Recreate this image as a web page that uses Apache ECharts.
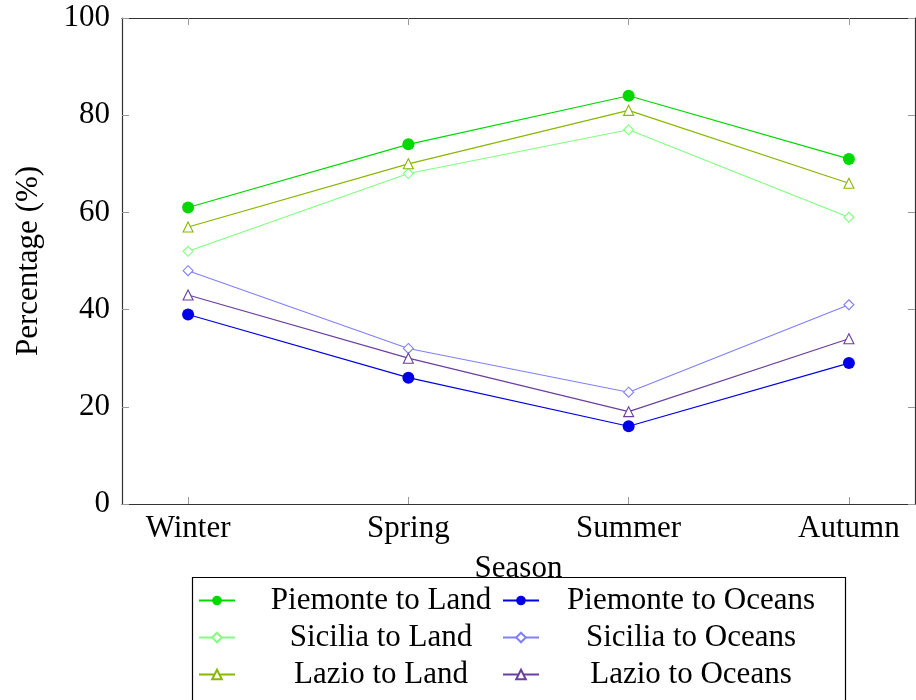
<!DOCTYPE html>
<html>
<head>
<meta charset="utf-8">
<script src="https://cdn.jsdelivr.net/npm/echarts@6/dist/echarts.min.js"></script>
<style>
  html, body { margin: 0; padding: 0; background: #fff; }
  #chart { width: 916px; height: 700px; }
</style>
</head>
<body>
<div id="chart"></div>
<script>
// data
const seasons = ['Winter', 'Spring', 'Summer', 'Autumn'];
const yTicks = [0, 20, 40, 60, 80, 100];

const piemonteLand = [61, 74, 84, 71];
const piemonteOceans = [39, 26, 16, 29];
const siciliaLand = [52, 68, 77, 59];
const siciliaOceans = [48, 32, 23, 41];
const lazioLand = [57, 70, 81, 66];
const lazioOceans = [43, 30, 19, 34];

const FONT = '"Liberation Serif", "DejaVu Serif", serif';
const FS = 31;
const seasonIdx = seasons.map((s, i) => i);

const chart = echarts.init(document.getElementById('chart'), null, { renderer: 'canvas' });

// 把数组变成 [x, y] 点
const pts = (arr) => arr.map((v, i) => [i, v]);

const mkSeries = (name, arr, color, symbol, size, filled) => ({
  name,
  type: 'line',
  data: pts(arr),
  symbol,
  symbolSize: size,
  showSymbol: true,
  lineStyle: { color, width: 1.2 },
  itemStyle: filled
    ? { color, borderColor: color, borderWidth: 0 }
    : { color: '#fff', borderColor: color, borderWidth: 1.1 },
  emphasis: { disabled: true },
  z: 3
});

const axisFrame = { show: true, onZero: false, lineStyle: { color: '#333', width: 1.2 } };
const tickStyle = { show: true, inside: true, length: 7, lineStyle: { color: '#999', width: 1 } };

// legend columns (left / right)
const legendLeft = ['Piemonte to Land', 'Sicilia to Land', 'Lazio to Land'];
const legendRight = ['Piemonte to Oceans', 'Sicilia to Oceans', 'Lazio to Oceans'];

const mkLegend = (data, left, textW) => ({
  data,
  left,
  top: 585,
  padding: 0,
  orient: 'vertical',
  itemWidth: 36,
  itemHeight: 12,
  itemGap: 6,
  selectedMode: false,
  textStyle: {
    fontFamily: FONT,
    fontSize: FS,
    color: '#000',
    rich: {
      c: { width: textW, align: 'center', fontFamily: FONT, fontSize: FS, color: '#000' }
    }
  },
  formatter: (name) => '{c|' + name + '}'
});

const option = {
  animation: false,
  backgroundColor: '#fff',
  grid: { left: 122, right: 1, top: 18, bottom: 196, containLabel: false, outerBoundsMode: 'none' },
  xAxis: [
    {
      type: 'value',
      min: -0.3,
      max: 3.3,
      position: 'bottom',
      name: 'Season',
      nameLocation: 'middle',
      nameGap: 49,
      nameTextStyle: { fontFamily: FONT, fontSize: FS, color: '#000' },
      axisLine: axisFrame,
      axisTick: Object.assign({}, tickStyle, { customValues: seasonIdx }),
      axisLabel: {
        customValues: seasonIdx,
        formatter: (v) => seasons[Math.round(v)],
        fontFamily: FONT, fontSize: FS, color: '#000', margin: 9
      },
      splitLine: { show: false }
    },
    {
      type: 'value',
      min: -0.3,
      max: 3.3,
      position: 'top',
      axisLine: axisFrame,
      axisTick: Object.assign({}, tickStyle, { customValues: seasonIdx }),
      axisLabel: { show: false },
      splitLine: { show: false }
    }
  ],
  yAxis: [
    {
      type: 'value',
      min: 0,
      max: 100,
      interval: 20,
      position: 'left',
      name: 'Percentage (%)',
      nameLocation: 'middle',
      nameGap: 78,
      nameTextStyle: { fontFamily: FONT, fontSize: FS, color: '#000' },
      axisLine: axisFrame,
      axisTick: tickStyle,
      axisLabel: {
        customValues: yTicks,
        fontFamily: FONT, fontSize: FS, color: '#000', margin: 12
      },
      splitLine: { show: false }
    },
    {
      type: 'value',
      min: 0,
      max: 100,
      interval: 20,
      position: 'right',
      axisLine: axisFrame,
      axisTick: tickStyle,
      axisLabel: { show: false },
      splitLine: { show: false }
    }
  ],
  legend: [
    mkLegend(legendLeft, 198, 282),
    mkLegend(legendRight, 502, 294)
  ],
  graphic: [
    {
      type: 'rect',
      shape: { x: 192.5, y: 577.5, width: 653, height: 140 },
      style: { fill: 'none', stroke: '#000', lineWidth: 1.2 },
      silent: true,
      z: 100
    }
  ],
  series: [
    mkSeries('Piemonte to Land', piemonteLand, '#00d900', 'circle', 12, true),
    mkSeries('Sicilia to Land', siciliaLand, '#80ff80', 'diamond', 10, false),
    mkSeries('Lazio to Land', lazioLand, '#88b800', 'triangle', 10, false),
    mkSeries('Piemonte to Oceans', piemonteOceans, '#0000e6', 'circle', 12, true),
    mkSeries('Sicilia to Oceans', siciliaOceans, '#8080ff', 'diamond', 10, false),
    mkSeries('Lazio to Oceans', lazioOceans, '#6b3fa0', 'triangle', 10, false)
  ]
};

chart.setOption(option);
</script>
</body>
</html>
